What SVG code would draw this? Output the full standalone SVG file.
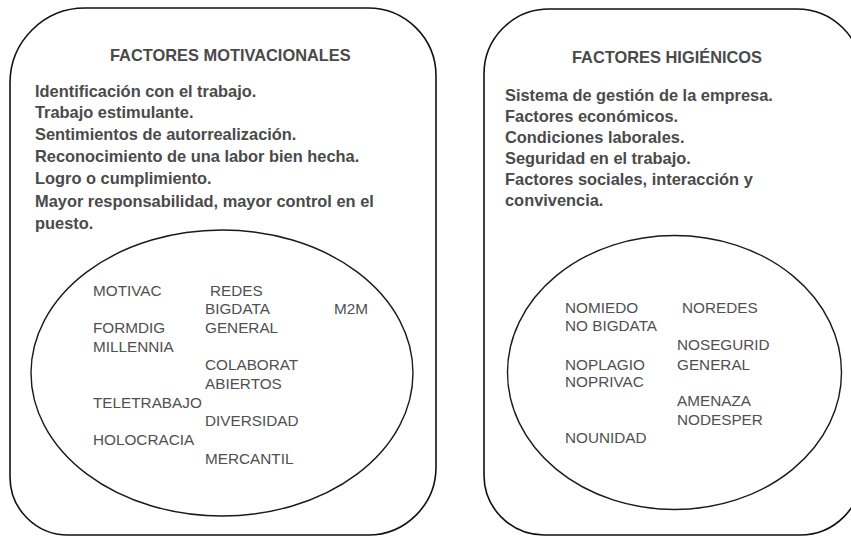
<svg xmlns="http://www.w3.org/2000/svg" width="851" height="536" viewBox="0 0 851 536">
<style>
.box{fill:#fff;stroke:#111;stroke-width:1.6}
.ell{fill:none;stroke:#1a1a1a;stroke-width:1.4}
.title{font-family:"Liberation Sans",Arial,sans-serif;font-weight:bold;font-size:16.4px;fill:#4a4a4a}
.body{font-family:"Liberation Sans",Arial,sans-serif;font-weight:bold;font-size:16.4px;fill:#4a4a4a}
.term{font-family:"Liberation Sans",Arial,sans-serif;font-size:15.3px;fill:#505050}
</style>
<rect width="851" height="536" fill="#fff"/>
<g id="motivacionales">
<path class="box" d="M85,8 H368 A68,68 0 0 1 436,76 V467 A68,68 0 0 1 368,535 H68 A58,58 0 0 1 10,477 V83 A75,75 0 0 1 85,8 Z"/>
<text class="title" x="110" y="61">FACTORES MOTIVACIONALES</text>
<text class="body" x="35" y="97">Identificación con el trabajo.</text>
<text class="body" x="35" y="118">Trabajo estimulante.</text>
<text class="body" x="35" y="140">Sentimientos de autorrealización.</text>
<text class="body" x="35" y="162">Reconocimiento de una labor bien hecha.</text>
<text class="body" x="35" y="184">Logro o cumplimiento.</text>
<text class="body" x="35" y="207">Mayor responsabilidad, mayor control en el</text>
<text class="body" x="35" y="229">puesto.</text>
</g>
<g id="higienicos">
<path class="box" d="M549,9 H797 A65,65 0 0 1 862,74 V473 A62,62 0 0 1 800,535 H544 A60,60 0 0 1 484,475 V74 A65,65 0 0 1 549,9 Z"/>
<text class="title" x="572" y="63">FACTORES HIGIÉNICOS</text>
<text class="body" x="505" y="101">Sistema de gestión de la empresa.</text>
<text class="body" x="505" y="122">Factores económicos.</text>
<text class="body" x="505" y="143">Condiciones laborales.</text>
<text class="body" x="505" y="164">Seguridad en el trabajo.</text>
<text class="body" x="505" y="185">Factores sociales, interacción y</text>
<text class="body" x="505" y="206">convivencia.</text>
</g>
<g id="conjunto-motivacional">
<ellipse class="ell" cx="222" cy="373" rx="191" ry="143"/>
<text class="term" x="93" y="296">MOTIVAC</text>
<text class="term" x="210" y="296">REDES</text>
<text class="term" x="205" y="314">BIGDATA</text>
<text class="term" x="334" y="314">M2M</text>
<text class="term" x="93" y="333">FORMDIG</text>
<text class="term" x="205" y="333">GENERAL</text>
<text class="term" x="93" y="352">MILLENNIA</text>
<text class="term" x="205" y="370">COLABORAT</text>
<text class="term" x="205" y="389">ABIERTOS</text>
<text class="term" x="93" y="408">TELETRABAJO</text>
<text class="term" x="205" y="426">DIVERSIDAD</text>
<text class="term" x="93" y="445">HOLOCRACIA</text>
<text class="term" x="205" y="464">MERCANTIL</text>
</g>
<g id="conjunto-higienico">
<ellipse class="ell" cx="674.5" cy="372.5" rx="167" ry="137"/>
<text class="term" x="565" y="313">NOMIEDO</text>
<text class="term" x="682" y="313">NOREDES</text>
<text class="term" x="565" y="331">NO BIGDATA</text>
<text class="term" x="677" y="350">NOSEGURID</text>
<text class="term" x="565" y="370">NOPLAGIO</text>
<text class="term" x="677" y="370">GENERAL</text>
<text class="term" x="565" y="387">NOPRIVAC</text>
<text class="term" x="677" y="406">AMENAZA</text>
<text class="term" x="677" y="425">NODESPER</text>
<text class="term" x="565" y="443">NOUNIDAD</text>
</g>
<g id="connectors"/>
</svg>
